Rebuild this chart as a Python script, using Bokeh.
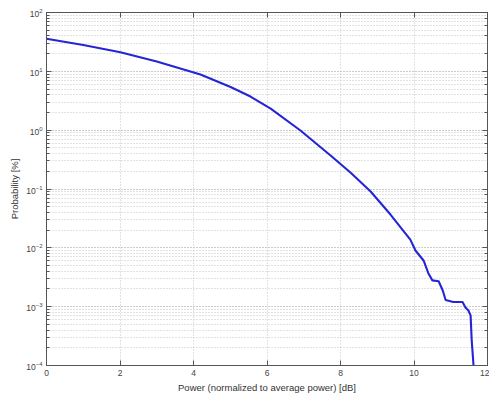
from bokeh.plotting import figure
from bokeh.models import LinearAxis, LogAxis, CustomJSTickFormatter, FixedTicker
from bokeh.embed import file_html
from bokeh.resources import INLINE

# Data (power in dB, probability in %)
power_db = [0.00, 1.00, 2.01, 3.00, 4.19, 5.01, 5.55, 6.10, 6.91, 7.73, 8.27, 8.82,
            9.36, 9.90, 10.04, 10.26, 10.39, 10.50, 10.67, 10.78, 10.86, 11.07,
            11.32, 11.40, 11.48, 11.54, 11.57, 11.62]
probability_pct = [35.7, 28.0, 21.1, 14.7, 8.83, 5.43, 3.73, 2.33, 0.987, 0.371, 0.1905, 0.0906,
                   0.0368, 0.0138, 0.0090, 0.0061, 0.0037, 0.0028, 0.0027, 0.0019, 0.0013, 0.0012,
                   0.0012, 0.00097, 0.00086, 0.00071, 0.00027, 0.0001]
x_ticks = [0, 2, 4, 6, 8, 10, 12]

FONT = "Liberation Sans"
AX_COLOR = "#555555"
GRID_COLOR = "#c4c4c4"

p = figure(width=489, height=399, y_axis_type="log",
           x_range=(0, 12), y_range=(1e-4, 1e2),
           output_backend="svg", toolbar_location=None,
           min_border_left=46, min_border_top=12, min_border_right=2,
           min_border_bottom=34)

p.line(power_db, probability_pct, line_color="#2525d5", line_width=2.1)

p.outline_line_color = AX_COLOR
p.outline_line_width = 1
p.background_fill_color = "white"
p.border_fill_color = "white"

# Grid (MATLAB-like dotted)
p.xgrid.ticker = FixedTicker(ticks=x_ticks)
p.xgrid.grid_line_color = GRID_COLOR
p.xgrid.grid_line_dash = "1 2"
p.ygrid.grid_line_color = GRID_COLOR
p.ygrid.grid_line_dash = "1 2"
p.ygrid.minor_grid_line_color = GRID_COLOR
p.ygrid.minor_grid_line_dash = "1 2"

for ax in p.xaxis:
    ax.ticker = FixedTicker(ticks=x_ticks)
    ax.axis_label = "Power (normalized to average power) [dB]"
for ax in p.yaxis:
    ax.axis_label = "Probability [%]"

for ax in list(p.xaxis) + list(p.yaxis):
    ax.axis_line_color = AX_COLOR
    ax.major_tick_line_color = AX_COLOR
    ax.minor_tick_line_color = AX_COLOR
    ax.major_tick_in = 5
    ax.major_tick_out = 0
    ax.minor_tick_in = 3
    ax.minor_tick_out = 0
    ax.major_label_text_font = FONT
    ax.major_label_text_font_size = "8.5px"
    ax.major_label_text_color = "#444444"
    ax.axis_label_text_font = FONT
    ax.axis_label_text_font_size = "9.5px"
    ax.axis_label_text_font_style = "normal"
    ax.axis_label_text_color = "#333333"
    ax.major_label_standoff = 4
    ax.axis_label_standoff = 3

# Box ticks on top and right (no labels)
empty = CustomJSTickFormatter(code="return ''")
top = LinearAxis(ticker=FixedTicker(ticks=x_ticks), formatter=empty,
                 major_tick_in=5, major_tick_out=0, minor_tick_in=0, minor_tick_out=0,
                 axis_line_color=AX_COLOR, major_tick_line_color=AX_COLOR,
                 major_label_standoff=0)
right = LogAxis(formatter=empty,
                major_tick_in=5, major_tick_out=0, minor_tick_in=3, minor_tick_out=0,
                axis_line_color=AX_COLOR, major_tick_line_color=AX_COLOR,
                minor_tick_line_color=AX_COLOR, major_label_standoff=0)
p.add_layout(top, "above")
p.add_layout(right, "right")

open("out.html", "w").write(file_html(p, INLINE))
